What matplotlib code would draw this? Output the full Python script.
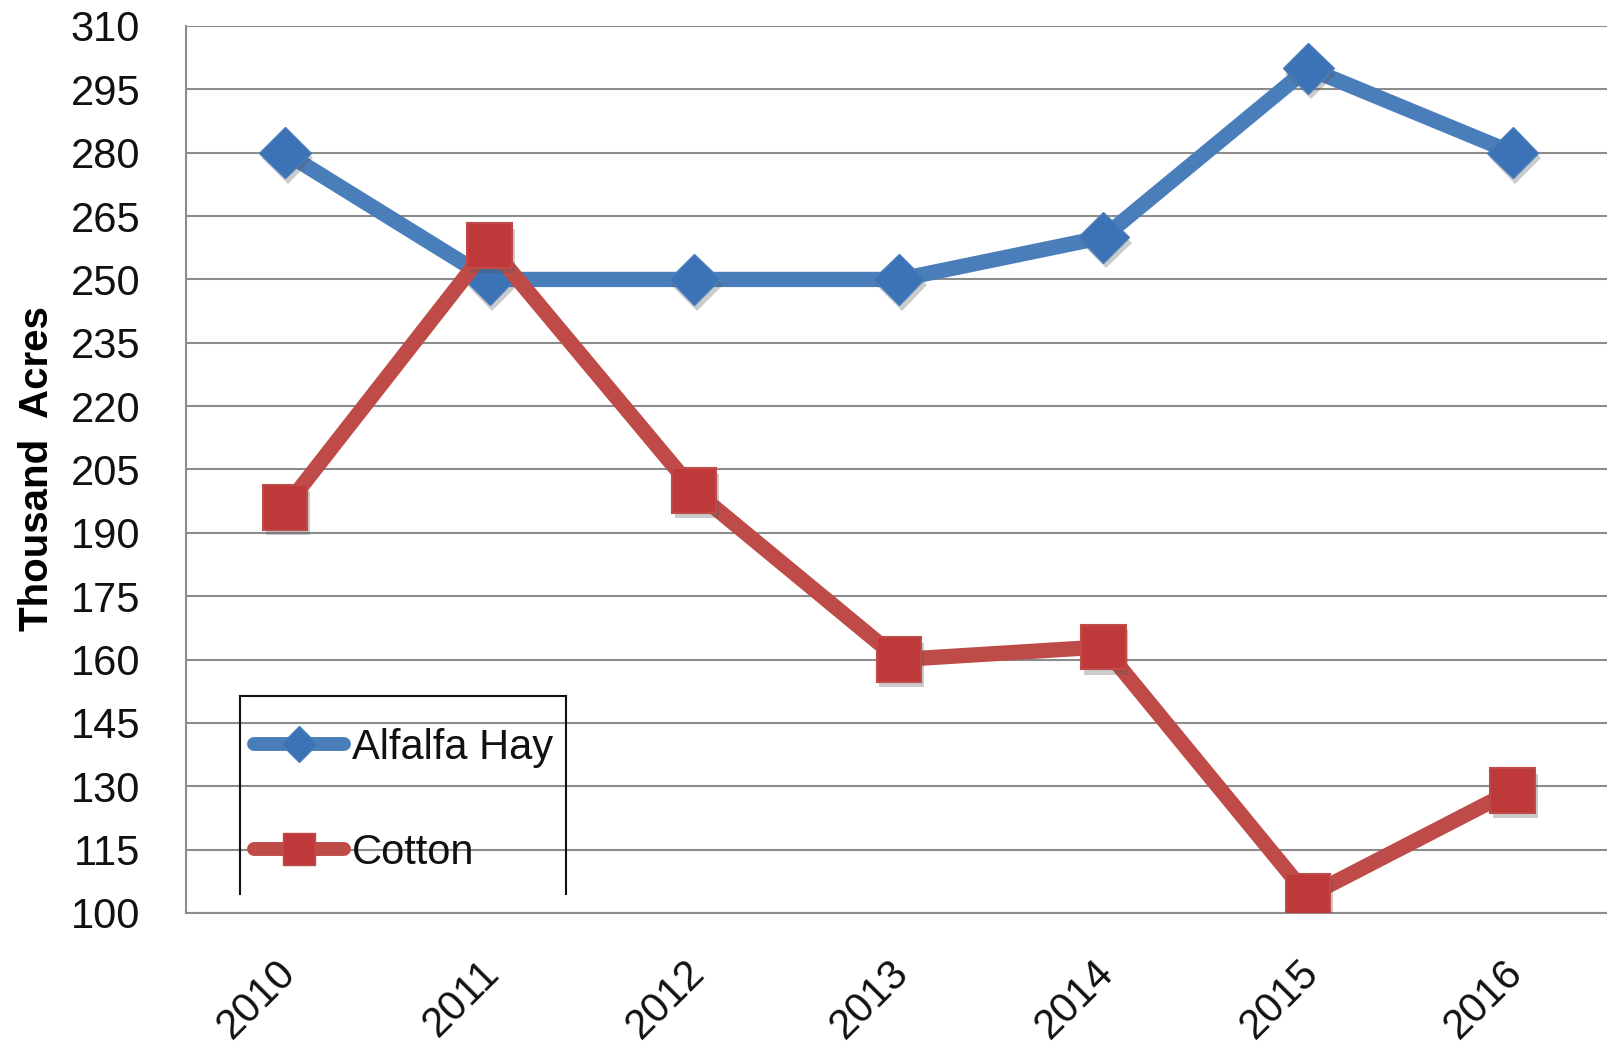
import matplotlib
matplotlib.use("Agg")
import matplotlib.pyplot as plt
from matplotlib.lines import Line2D
import matplotlib.patheffects as pe
import matplotlib.transforms as mtransforms

years = ["2010", "2011", "2012", "2013", "2014", "2015", "2016"]
alfalfa = [280, 250, 250, 250, 260, 300, 280]
cotton = [196, 258, 200, 160, 163, 104, 129]
yticks = list(range(100, 311, 15))

W, H = 1608, 1047
fig = plt.figure(figsize=(W / 100, H / 100), dpi=100)
ax = fig.add_axes([186 / W, 1 - 913 / H, (W - 186) / W, (913 - 26) / H])

font = ['Liberation Sans', 'DejaVu Sans']
blue_line = '#4a7ebb'
blue_mark = '#3c72b6'
red_line = '#be4b48'
red_mark = '#c0393a'

x = list(range(len(years)))
shadow = [pe.SimplePatchShadow(offset=(2, -4), alpha=0.3, shadow_rgbFace='#555555'), pe.Normal()]

# Alfalfa
ax.plot(x, alfalfa, color=blue_line, lw=11, solid_capstyle='round', zorder=3)
ax.plot(x, alfalfa, ls='none', marker='D', ms=26, mfc=blue_mark, mec=blue_line, mew=1,
        path_effects=shadow, zorder=4)
# Cotton
ax.plot(x, cotton, color=red_line, lw=11, solid_capstyle='round', zorder=5)
ax.plot(x, cotton, ls='none', marker='s', ms=32, mfc=red_mark, mec=red_line, mew=1.5,
        path_effects=shadow, zorder=6)

ax.set_xlim(-0.484, 6.466)
ax.set_ylim(100, 310)
ax.set_yticks(yticks)
ax.set_xticks(x)
ax.set_xticklabels(years, rotation=45, ha='right', rotation_mode='anchor')
ax.tick_params(axis='y', length=0, pad=33)
ax.tick_params(axis='x', length=0, pad=22)
off = mtransforms.ScaledTranslation(-10 / 100, -9 / 100, fig.dpi_scale_trans)
for lab in ax.get_xticklabels():
    lab.set_transform(lab.get_transform() + off)
for lab in ax.get_xticklabels() + ax.get_yticklabels():
    lab.set_fontfamily(font)
    lab.set_fontsize(30)
    lab.set_color('#111111')

ax.grid(axis='y', color='#8c8c8c', lw=1.5, zorder=0)
ax.set_axisbelow(True)
for s in ['top', 'right']:
    ax.spines[s].set_visible(False)
for s in ['left', 'bottom']:
    ax.spines[s].set_color('#8c8c8c')
    ax.spines[s].set_linewidth(1.5)

fig.text(37 / W, 1 - 469 / H, "Thousand  Acres", rotation=90, ha='center', va='center',
         fontsize=29, fontweight='bold', family=font)

handles = [
    Line2D([], [], color=blue_line, lw=10, solid_capstyle='round', marker='D', ms=18,
           mfc=blue_mark, mec=blue_line),
    Line2D([], [], color=red_line, lw=10, solid_capstyle='round', marker='s', ms=23,
           mfc=red_mark, mec=red_line),
]
leg = ax.legend(handles, ["Alfalfa Hay", "Cotton"], loc='upper left',
                bbox_to_anchor=(254 / W, 1 - 728 / H), bbox_transform=fig.transFigure,
                frameon=False, handlelength=2.15, handletextpad=0.2, labelspacing=1.55,
                borderpad=0, borderaxespad=0, prop={'family': font, 'size': 30})
for t in leg.get_texts():
    t.set_color('#111111')

# legend frame (open at the bottom)
lx0, lx1, ly0, ly1 = 240 / W, 566 / W, 1 - 696 / H, 1 - 894 / H
for xs, ys in [([lx0, lx0], [ly1, ly0]), ([lx0, lx1], [ly0, ly0]), ([lx1, lx1], [ly0, ly1])]:
    fig.add_artist(Line2D(xs, ys, color='#111111', lw=1.5, transform=fig.transFigure))

fig.savefig("out.png", dpi=100, facecolor='white')
